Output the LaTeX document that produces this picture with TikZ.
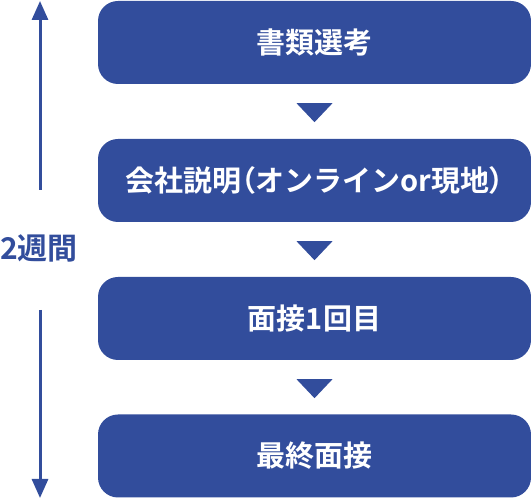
\documentclass[tikz,border=0pt]{standalone}
\usepackage{fontspec}
\newfontfamily\jp{Noto Sans CJK JP}[BoldFont={Noto Sans CJK JP Bold}]
\newfontfamily\jpp{Noto Sans CJK JP}[BoldFont={Noto Sans CJK JP Bold},RawFeature={+palt}]
\usetikzlibrary{arrows.meta,calc}
\definecolor{navy}{RGB}{50,77,156}
\tikzset{
  stepbox/.style={fill=navy, rounded corners=20pt, minimum width=433pt, minimum height=83pt,
    inner sep=0pt, text=white, font=\jp\bfseries\fontsize{29pt}{32pt}\selectfont},
  tri/.style={fill=navy},
  span/.style={draw=navy, line width=3pt, -{Triangle[length=19pt,width=16pt]}},
}
\begin{document}
\begin{tikzpicture}[x=1pt,y=1pt]
\useasboundingbox (0,0) rectangle (531,500);
\node[stepbox] (b1) at (314.5,457.5) {書類選考};
\node[stepbox] (b2) at (314.5,319.5) {会社説明{\jpp（}オンラインor現地{\jpp）}};
\node[stepbox] (b3) at (314.5,181.5) {面接1回目};
\node[stepbox] (b4) at (314.5,44) {最終面接};
\foreach \a in {b1,b2,b3}{
  \fill[tri] ($(\a.south)+(-18,-19)$) -- ($(\a.south)+(18,-19)$) -- ($(\a.south)+(0,-38)$) -- cycle;
}
\node[text=navy, font=\jp\bfseries\fontsize{30pt}{32pt}\selectfont, inner sep=0pt] (lbl) at (39,252) {2週間};
\coordinate (uptop) at (40,499);
\coordinate (upbot) at (40,310);
\coordinate (dntop) at (40,190);
\coordinate (dnbot) at (40,2);
\draw[span] (upbot) -- (uptop);
\draw[span] (dntop) -- (dnbot);
\end{tikzpicture}
\end{document}
